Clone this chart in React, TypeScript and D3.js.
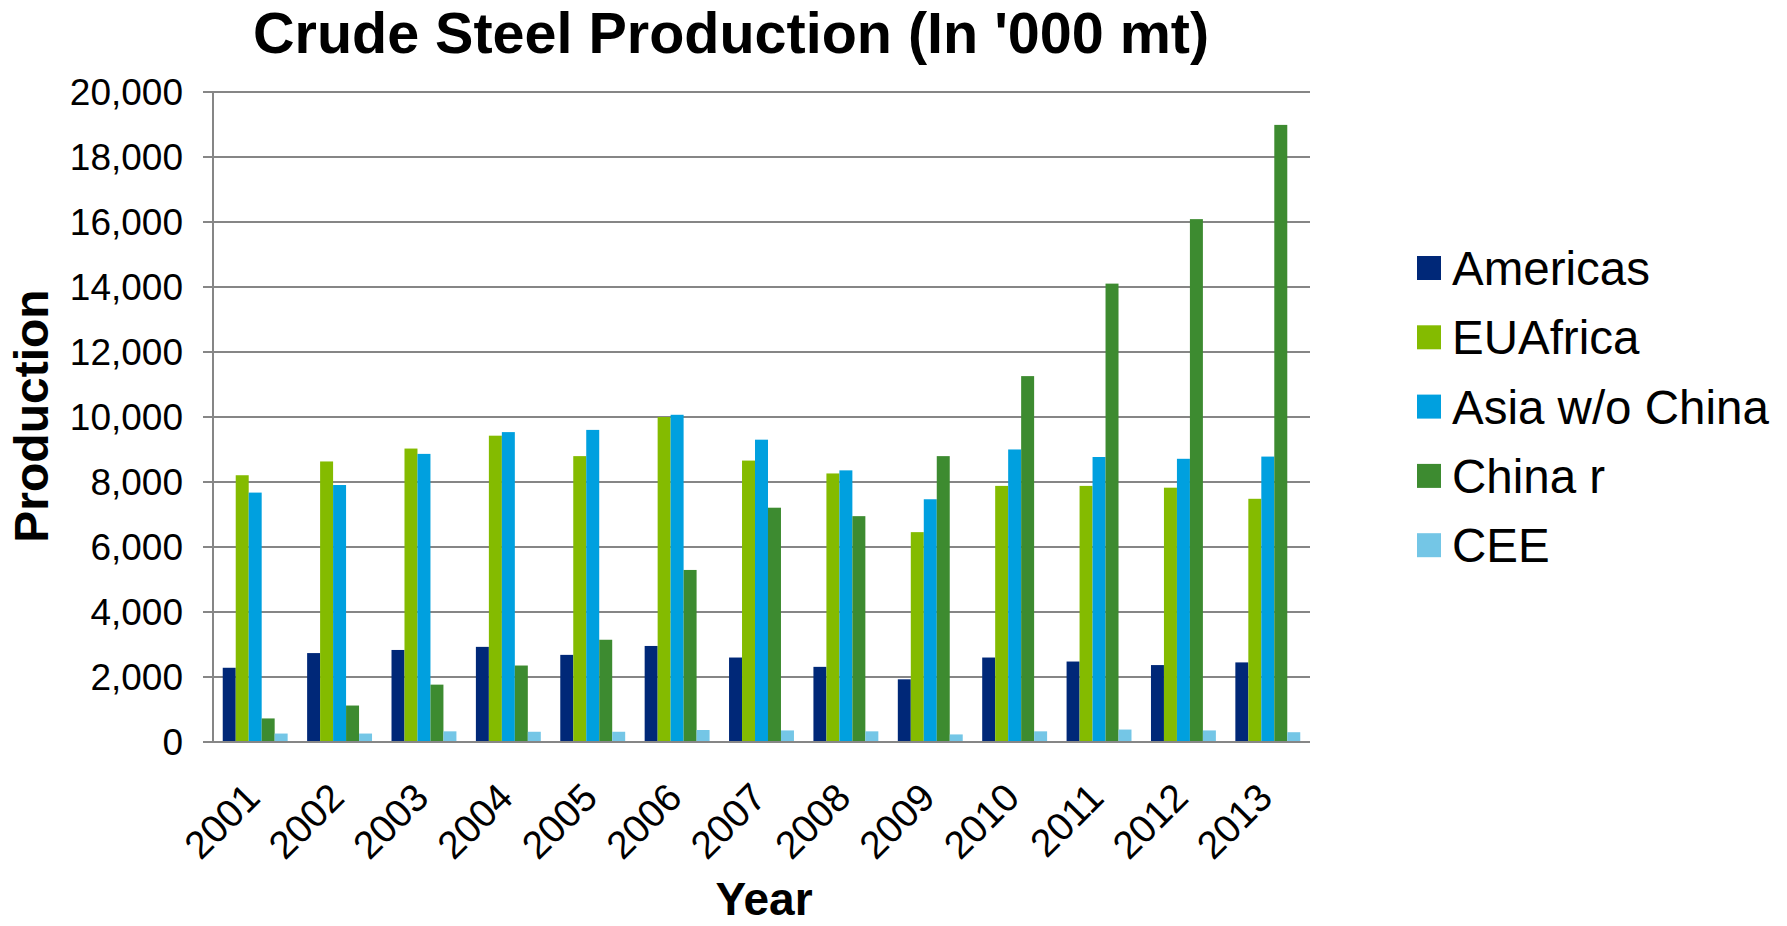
import * as React from 'react';
import * as d3 from 'd3';

const years = ['2001', '2002', '2003', '2004', '2005', '2006', '2007', '2008', '2009', '2010', '2011', '2012', '2013'];
const seriesNames = ['Americas', 'EUAfrica', 'Asia w/o China', 'China r', 'CEE'];
const americas = [2284, 2736, 2832, 2927, 2681, 2955, 2599, 2312, 1929, 2599, 2476, 2367, 2449];
const euAfrica = [8208, 8632, 9029, 9425, 8796, 10000, 8659, 8263, 6457, 7880, 7880, 7825, 7483];
const asiaWoChina = [7674, 7907, 8865, 9535, 9603, 10068, 9302, 8358, 7469, 9001, 8769, 8714, 8782];
const chinaR = [725, 1122, 1765, 2353, 3146, 5294, 7209, 6949, 8796, 11258, 14104, 16088, 18988];
const cee = [260, 260, 328, 315, 315, 369, 356, 328, 233, 328, 383, 356, 301];
const yTicks = [0, 2000, 4000, 6000, 8000, 10000, 12000, 14000, 16000, 18000, 20000];
const colors = ['#002878', '#84bb00', '#00a0df', '#3d8b30', '#74c6e6'];

const seriesValues = [americas, euAfrica, asiaWoChina, chinaR, cee];

const W = 1787;
const H = 926;
const margin = { top: 92, right: 477, bottom: 184, left: 213 };
const FONT = '"Liberation Sans", Arial, sans-serif';

export default function App() {
  const gap = 1.5 / 6.5; // excel gap width 150%
  const x0 = d3.scaleBand<string>()
    .domain(years)
    .range([margin.left, W - margin.right])
    .paddingInner(gap)
    .paddingOuter(gap / 2);
  const x1 = d3.scaleBand<string>()
    .domain(seriesNames)
    .range([0, x0.bandwidth()]);
  const y = d3.scaleLinear()
    .domain([0, 20000])
    .range([H - margin.bottom, margin.top]);
  const fmt = d3.format(',');
  const grid = '#868686';

  return (
    <svg width={W} height={H} style={{ position: 'absolute', left: 0, top: 0, background: '#fff' }}
         fontFamily={FONT}>
      <text x={253} y={53} fontSize={57.5} fontWeight="bold">
        Crude Steel Production (In '000 mt)
      </text>

      {/* gridlines + y ticks */}
      {yTicks.map(t => (
        <g key={t}>
          <line x1={margin.left - 10} x2={W - margin.right} y1={y(t)} y2={y(t)}
                stroke={grid} strokeWidth={2} />
          <text x={183} y={y(t)} dy="0.36em" textAnchor="end" fontSize={37}>{fmt(t)}</text>
        </g>
      ))}
      <line x1={margin.left} x2={margin.left} y1={y(20000)} y2={y(0)} stroke={grid} strokeWidth={2} />

      {/* bars */}
      {years.map((yr, i) => (
        <g key={yr} transform={`translate(${x0(yr)},0)`}>
          {seriesNames.map((s, j) => (
            <rect key={s}
                  x={x1(s)}
                  width={x1.bandwidth()}
                  y={y(seriesValues[j][i])}
                  height={y(0) - y(seriesValues[j][i])}
                  fill={colors[j]} />
          ))}
        </g>
      ))}
      <line x1={margin.left} x2={W - margin.right} y1={y(0)} y2={y(0)} stroke={grid} strokeWidth={2} />

      {/* x tick labels, top-right corner near the category */}
      {years.map(yr => {
        const cx = (x0(yr) as number) + x0.bandwidth() / 2;
        return (
          <text key={yr} transform={`translate(${cx - 13},${780}) rotate(-45)`}
                dy="0.72em" textAnchor="end" fontSize={39}>{yr}</text>
        );
      })}

      {/* axis titles */}
      <text x={764} y={915} textAnchor="middle" fontSize={46} fontWeight="bold">Year</text>
      <text transform={`translate(48,416) rotate(-90)`} textAnchor="middle" fontSize={48} fontWeight="bold">
        Production
      </text>

      {/* legend */}
      {seriesNames.map((s, j) => (
        <g key={s} transform={`translate(1417,${268 + j * 69.3})`}>
          <rect x={0} y={-12} width={24} height={24} fill={colors[j]} />
          <text x={35} y={0} dy="0.36em" fontSize={47.5}>{s}</text>
        </g>
      ))}
    </svg>
  );
}
